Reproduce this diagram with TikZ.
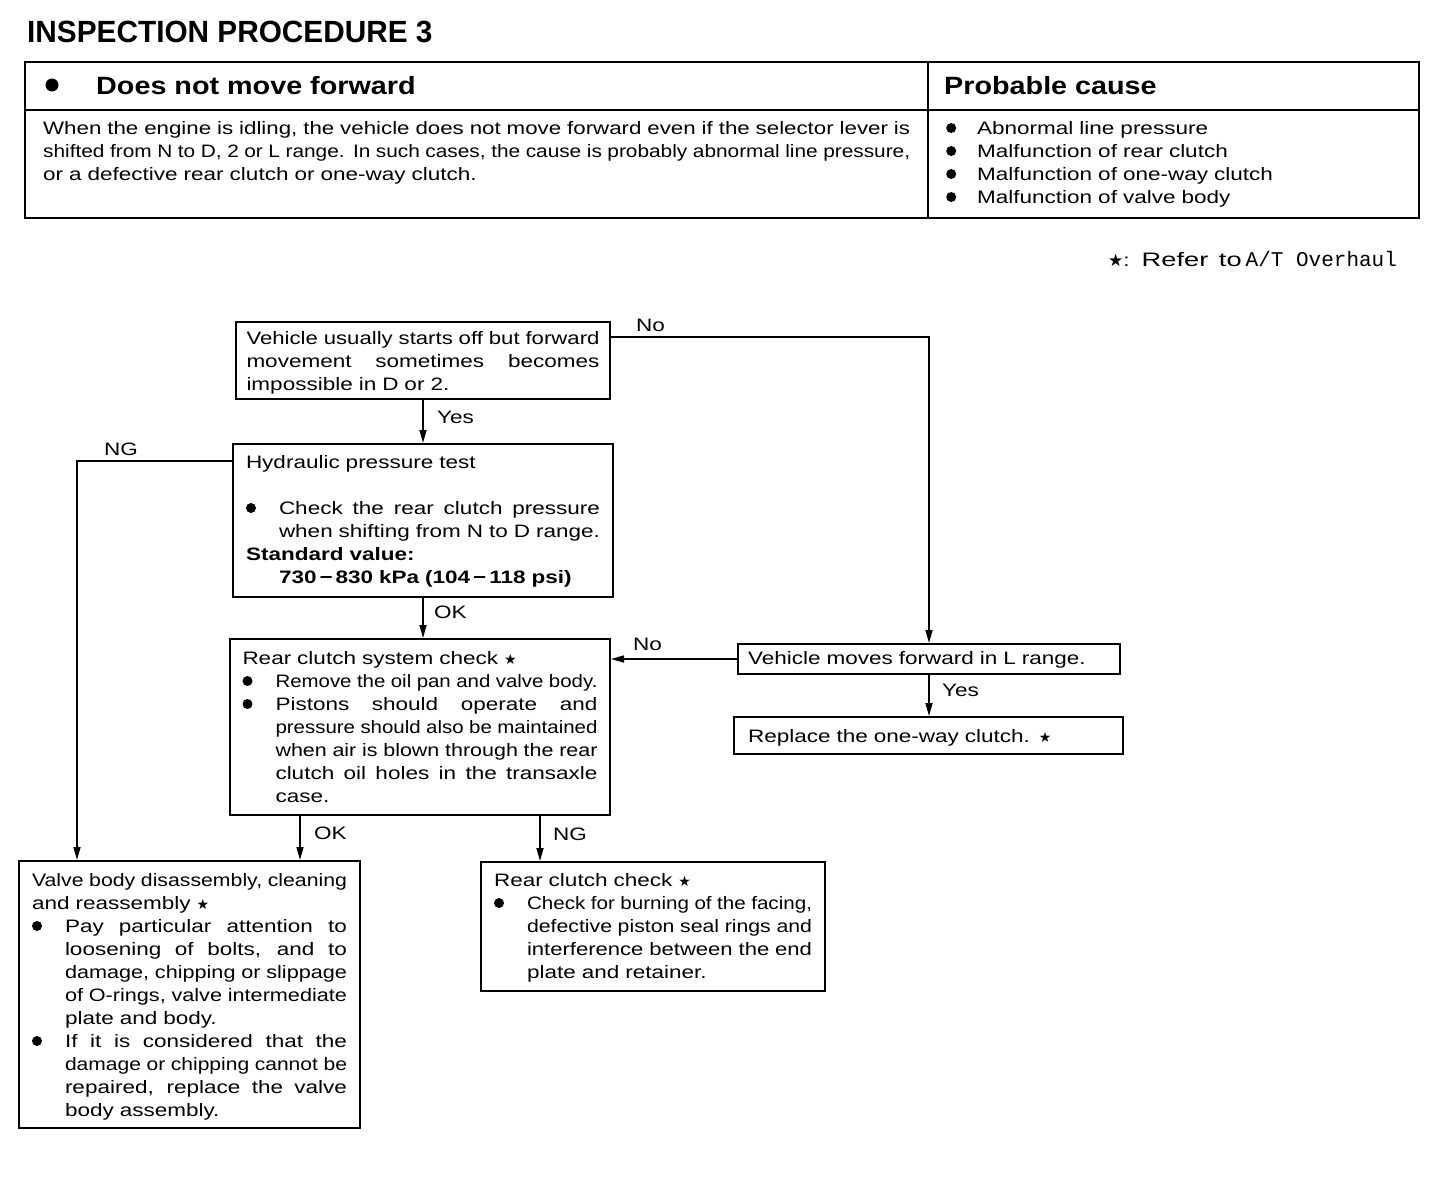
\documentclass[tikz,border=0pt]{standalone}
\usepackage{fontspec}
\usepackage{graphicx}
\setmainfont{Liberation Sans}[FakeStretch=1.25, WordSpace=1.4]
\newfontfamily\titlef{Liberation Sans}[FakeStretch=0.97]
\newfontfamily\hdrf{Liberation Sans}[FakeStretch=1.15]
\newfontfamily\symf{DejaVu Sans}
\newfontfamily\monof{Liberation Mono}
\usetikzlibrary{arrows.meta}

\newlength\bind \setlength\bind{33pt}
\newlength\jwd
\newsavebox\jbox
\newcommand\fitto[2]{\setlength\jwd{#1}\sbox\jbox{#2}%
  \ifdim\wd\jbox>\jwd\resizebox{\jwd}{\height}{\usebox\jbox}\else
  {\spaceskip=0.3em plus 1fil\xspaceskip=\spaceskip\makebox[\jwd][s]{#2}}\fi}
\newcommand\lnJ[1]{\fitto{\linewidth}{#1}\par}
\newcommand\lnL[1]{\leavevmode#1\par}
\newcommand\mybul{\makebox[\bind][l]{\tikz[baseline=0pt]\fill (5pt,6pt) circle (5pt);}}
\newcommand\bulJ[1]{\mybul\fitto{\dimexpr\linewidth-\bind\relax}{#1}\par}
\newcommand\bulL[1]{\mybul#1\par}
\newcommand\indJ[1]{\leavevmode\hspace*{\bind}\fitto{\dimexpr\linewidth-\bind\relax}{#1}\par}
\newcommand\indL[1]{\leavevmode\hspace*{\bind}#1\par}
\newcommand\mystar{{\symf\fontsize{14}{14}\selectfont ★}}

\begin{document}
\begin{tikzpicture}[x=1pt,y=-1pt,
  every node/.style={font=\fontsize{18}{23}\selectfont},
  box/.style={draw, line width=2pt, anchor=north west, inner ysep=0pt},
  lbl/.style={anchor=base west, inner sep=0pt},
  arr/.style={line width=1.5pt, -{Triangle[length=13pt,width=7pt]}},
  tbl/.style={line width=2.5pt}]
\useasboundingbox (0,0) rectangle (1456,1178);

% title
\node[lbl, font=\titlef\bfseries\fontsize{30.7}{32}\selectfont] (title) at (27,42) {INSPECTION PROCEDURE 3};

% table
\draw[tbl] (25,62) rectangle (1419,218);
\draw[tbl] (25,110) -- (1419,110);
\draw[tbl] (928,62) -- (928,218);
\node[circle, fill, inner sep=0pt, minimum size=13pt] (hb) at (52,85) {};
\node[lbl, font=\hdrf\bfseries\fontsize{25}{28}\selectfont] (h1) at (96,94) {Does not move forward};
\node[lbl, font=\hdrf\bfseries\fontsize{25}{28}\selectfont] (h2) at (944,94) {Probable cause};
\node[lbl, text width=867pt] (t1) at (43,134) {%
\lnJ{When the engine is idling, the vehicle does not move forward even if the selector lever is}
\lnJ{shifted from N to D, 2 or L range. In such cases, the cause is probably abnormal line pressure,}
\lnL{or a defective rear clutch or one-way clutch.}};
\node[lbl, text width=440pt] (t2) at (946,134) {\setlength\bind{31pt}%
\bulL{Abnormal line pressure}
\bulL{Malfunction of rear clutch}
\bulL{Malfunction of one-way clutch}
\bulL{Malfunction of valve body}};

% legend
\node[lbl] (leg) at (1108,266) {{\symf\fontsize{17}{17}\selectfont ★}:\hspace{12pt}\resizebox{100pt}{\height}{\fontsize{19.5}{20}\selectfont Refer to}\hspace{4pt}{\monof\fontsize{21}{21}\selectfont A/T Overhaul}};

% boxes
\node[box, inner xsep=10.5pt, text width=353pt, text height=22pt, text depth=55pt] (A) at (235,321) {%
\lnJ{Vehicle usually starts off but forward}
\lnJ{movement sometimes becomes}
\lnL{impossible in D or 2.}};

\node[box, inner xsep=13pt, text width=354pt, text height=24pt, text depth=129pt] (B) at (232,443) {%
\lnL{Hydraulic pressure test}
\lnL{\mbox{}}
\bulJ{Check the rear clutch pressure}
\indJ{when shifting from N to D range.}
\lnL{\textbf{Standard value:}}
\indL{\textbf{730\,−\,830 kPa (104\,−\,118 psi)}}};

\node[box, inner xsep=12.5pt, text width=355pt, text height=25pt, text depth=151pt] (C) at (229,638) {%
\lnL{Rear clutch system check \mystar}
\bulJ{Remove the oil pan and valve body.}
\bulJ{Pistons should operate and}
\indJ{pressure should also be maintained}
\indJ{when air is blown through the rear}
\indJ{clutch oil holes in the transaxle}
\indL{case.}};

\node[box, inner xsep=10pt, text width=362pt, text height=20pt, text depth=10pt] (D) at (737,643) {%
\lnL{Vehicle moves forward in L range.}};

\node[box, inner xsep=14pt, text width=361pt, text height=25pt, text depth=12pt] (E) at (733,716) {%
\lnL{Replace the one-way clutch. \mystar}};

\node[box, inner xsep=13pt, text width=315pt, text height=25pt, text depth=242pt] (F) at (18,860) {%
\lnJ{Valve body disassembly, cleaning}
\lnL{and reassembly \mystar}
\bulJ{Pay particular attention to}
\indJ{loosening of bolts, and to}
\indJ{damage, chipping or slippage}
\indJ{of O-rings, valve intermediate}
\indL{plate and body.}
\bulJ{If it is considered that the}
\indJ{damage or chipping cannot be}
\indJ{repaired, replace the valve}
\indL{body assembly.}};

\node[box, inner xsep=13pt, text width=318pt, text height=24pt, text depth=105pt] (G) at (480,861) {%
\lnL{Rear clutch check \mystar}
\bulJ{Check for burning of the facing,}
\indJ{defective piston seal rings and}
\indJ{interference between the end}
\indL{plate and retainer.}};

% connectors
\draw[arr] (A.south) -- (A.south |- B.north);
\draw[arr] ([yshift=-16pt]A.north east) -| (D.north);
\draw[arr] ([yshift=-18pt]B.north west) -| ([xshift=59pt]F.north west);
\draw[arr] (B.south) -- (B.south |- C.north);
\draw[arr] (D.west) -- (D.west -| C.east);
\draw[arr] (D.south) -- (D.south |- E.north);
\coordinate (c1) at ([xshift=71pt]C.south west);
\coordinate (c2) at ([xshift=311pt]C.south west);
\draw[arr] (c1) -- (c1 |- F.north);
\draw[arr] (c2) -- (c2 |- G.north);

% labels
\node[lbl] (l1) at (437,423) {Yes};
\node[lbl] (l2) at (636,331) {No};
\node[lbl] (l3) at (104,455) {NG};
\node[lbl] (l4) at (434,618) {OK};
\node[lbl] (l5) at (633,650) {No};
\node[lbl] (l6) at (942,696) {Yes};
\node[lbl] (l7) at (314,839) {OK};
\node[lbl] (l8) at (553,840) {NG};
\end{tikzpicture}
\end{document}
